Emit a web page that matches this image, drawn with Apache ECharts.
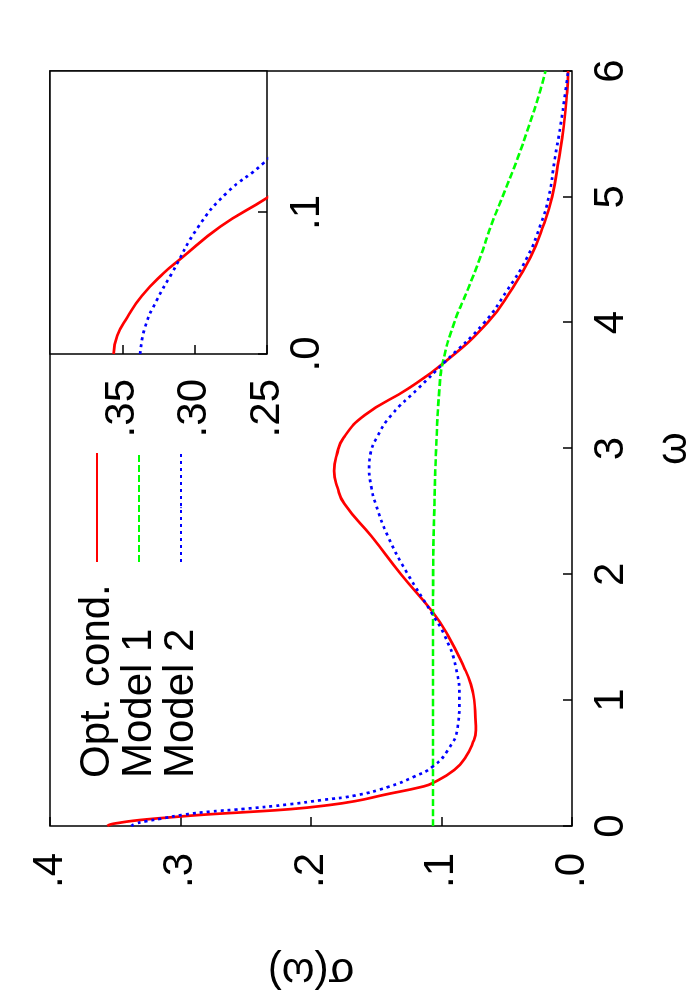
<!DOCTYPE html>
<html>
<head>
<meta charset="utf-8">
<script src="https://cdn.jsdelivr.net/npm/echarts@6/dist/echarts.min.js"></script>
<style>
  html, body { margin: 0; padding: 0; width: 700px; height: 1000px; overflow: hidden; background: #fff; }
  #chart { position: absolute; left: 0; top: 0; width: 1000px; height: 700px;
           transform-origin: 0 0; transform: translate(0px, 1000px) rotate(-90deg); }
</style>
</head>
<body>
<div id="chart"></div>
<script>
// ---- data (ω, σ(ω)) ----
const seriesNames = ['Opt. cond.', 'Model 1', 'Model 2'];

const optOmega = [0, 0.013, 0.026, 0.041, 0.057, 0.067, 0.09, 0.11, 0.133, 0.159, 0.198, 0.25, 0.31, 0.342, 0.446, 0.551, 0.655, 0.76, 0.864, 1.0, 1.126, 1.256, 1.517, 1.70, 2.0, 2.30, 2.561, 2.69, 2.822, 2.953, 3.083, 3.266, 3.475, 3.684, 4.0, 4.26, 4.52, 4.78, 5.0, 5.3, 5.56, 5.83, 6.0];
const optSigma = [0.356, 0.3535, 0.3465, 0.3366, 0.3216, 0.310, 0.2823, 0.2505, 0.217, 0.192, 0.166, 0.143, 0.1156, 0.1067, 0.0902, 0.0813, 0.0762, 0.0737, 0.0741, 0.0749, 0.0775, 0.0825, 0.0952, 0.1067, 0.131, 0.1535, 0.1745, 0.1797, 0.1823, 0.1802, 0.1752, 0.1587, 0.1257, 0.0978, 0.0648, 0.0465, 0.0318, 0.0216, 0.0152, 0.0101, 0.0063, 0.0038, 0.003];

const model1Omega = [0, 0.5, 1.0, 1.5, 2.0, 2.56, 3.0, 3.475, 3.684, 4.0, 4.26, 4.52, 4.78, 5.0, 5.3, 5.564, 5.825, 6.0];
const model1Sigma = [0.1065, 0.1065, 0.1065, 0.1065, 0.1064, 0.1054, 0.1041, 0.1016, 0.099, 0.0902, 0.080, 0.0703, 0.0617, 0.0533, 0.0419, 0.033, 0.0249, 0.0203];

const model2Omega = [0, 0.019, 0.038, 0.057, 0.09, 0.114, 0.135, 0.172, 0.206, 0.243, 0.31, 0.394, 0.472, 0.603, 0.786, 1.0, 1.256, 1.517, 1.70, 2.013, 2.30, 2.561, 2.69, 2.84, 2.953, 3.083, 3.266, 3.475, 3.684, 4.0, 4.26, 4.52, 4.78, 5.0, 5.3, 5.56, 5.83, 6.0];
const model2Sigma = [0.3377, 0.3343, 0.3262, 0.3158, 0.2974, 0.2777, 0.2523, 0.217, 0.192, 0.166, 0.141, 0.1206, 0.1067, 0.0952, 0.0876, 0.0863, 0.0889, 0.0978, 0.108, 0.1265, 0.141, 0.1505, 0.1537, 0.1555, 0.1545, 0.1498, 0.1384, 0.1181, 0.0978, 0.0673, 0.0495, 0.0343, 0.0241, 0.0178, 0.0132, 0.0089, 0.0051, 0.003];

// ---- tick labels ----
const omegaTickLabels = ['0', '1', '2', '3', '4', '5', '6'];
const sigmaTickLabels = ['.0', '.1', '.2', '.3', '.4'];
const insetOmegaTickLabels = ['.0', '.1', '.2'];
const insetSigmaTickLabels = ['.25', '.30', '.35', '.40'];

const zip = (xs, ys) => xs.map((x, i) => [x, ys[i]]);
const FONT = "'Liberation Sans', Arial, Helvetica, sans-serif";
const FS = 42;
const RED = '#ff0000', GREEN = '#00ff00', BLUE = '#0000ff';

const tick = { show: true, inside: true, length: 9, lineStyle: { color: '#000', width: 1.5 } };
const lbl = (fmt, margin, extra) => Object.assign({ color: '#000', fontFamily: FONT, fontSize: FS, margin: margin, formatter: fmt }, extra || {});

const chart = echarts.init(document.getElementById('chart'), null, { width: 1000, height: 700, renderer: 'canvas' });

const styles = {
  opt: { color: RED, width: 2.7, type: 'solid' },
  m1: { color: GREEN, width: 2.6, type: [7, 3] },
  m2: { color: BLUE, width: 2.7, type: [3, 4] }
};

function line(name, data, ls, xi, yi) {
  return {
    name: name, type: 'line', xAxisIndex: xi, yAxisIndex: yi, data: data,
    symbol: 'none', showSymbol: false, smooth: 0.5,
    color: ls.color, lineStyle: ls, clip: true, silent: true
  };
}

chart.setOption({
  animation: false,
  backgroundColor: '#fff',
  textStyle: { fontFamily: FONT },
  grid: [
    { left: 163, right: 71, top: 50, bottom: 125, show: true, borderColor: '#000', borderWidth: 1.5, backgroundColor: 'transparent' },
    { left: 646, right: 71, top: 50, bottom: 433, show: true, borderColor: '#000', borderWidth: 1.5, backgroundColor: '#fff', z: 5 }
  ],
  xAxis: [
    { type: 'value', gridIndex: 0, min: 0, max: 6, interval: 1,
      axisLine: { show: false }, axisTick: tick, splitLine: { show: false },
      axisLabel: lbl(v => omegaTickLabels[Math.round(v)], 18),
      name: 'ω', nameLocation: 'middle', nameGap: 81,
      nameTextStyle: { color: '#000', fontFamily: FONT, fontSize: FS } },
    { type: 'value', gridIndex: 1, min: 0, max: 0.2, interval: 0.1,
      axisLine: { show: false }, axisTick: tick, splitLine: { show: false }, z: 6,
      axisLabel: lbl(v => insetOmegaTickLabels[Math.round(v * 10)], 19, { showMaxLabel: false }) }
  ],
  yAxis: [
    { type: 'value', gridIndex: 0, min: 0, max: 0.4, interval: 0.1,
      axisLine: { show: false }, axisTick: tick, splitLine: { show: false },
      axisLabel: lbl(v => sigmaTickLabels[Math.round(v * 10)], 27),
      name: 'σ(ω)', nameLocation: 'middle', nameRotate: 90, nameGap: 124,
      nameTextStyle: { color: '#000', fontFamily: FONT, fontSize: FS } },
    { type: 'value', gridIndex: 1, min: 0.25, max: 0.4, interval: 0.05,
      axisLine: { show: false }, axisTick: tick, splitLine: { show: false }, z: 6,
      axisLabel: lbl(v => insetSigmaTickLabels[Math.round((v - 0.25) / 0.05)], 25, { showMaxLabel: false }) }
  ],
  legend: {
    data: seriesNames, orient: 'vertical', left: 222, top: 76,
    align: 'right', itemWidth: 109, itemHeight: 2, itemGap: 0,
    selectedMode: false, padding: 0,
    formatter: name => '{t|' + name + '}',
    textStyle: { color: '#000', fontFamily: FONT, fontSize: FS,
      rich: { t: { width: 211, align: 'left', fontSize: FS, lineHeight: 42, fontFamily: FONT, color: '#000' } } }
  },
  series: [
    line(seriesNames[0], zip(optOmega, optSigma), styles.opt, 0, 0),
    line(seriesNames[1], zip(model1Omega, model1Sigma), styles.m1, 0, 0),
    line(seriesNames[2], zip(model2Omega, model2Sigma), styles.m2, 0, 0),
    Object.assign(line(seriesNames[0], zip(optOmega, optSigma), styles.opt, 1, 1), { z: 7 }),
    Object.assign(line(seriesNames[2], zip(model2Omega, model2Sigma), styles.m2, 1, 1), { z: 7 })
  ]
});
</script>
</body>
</html>
